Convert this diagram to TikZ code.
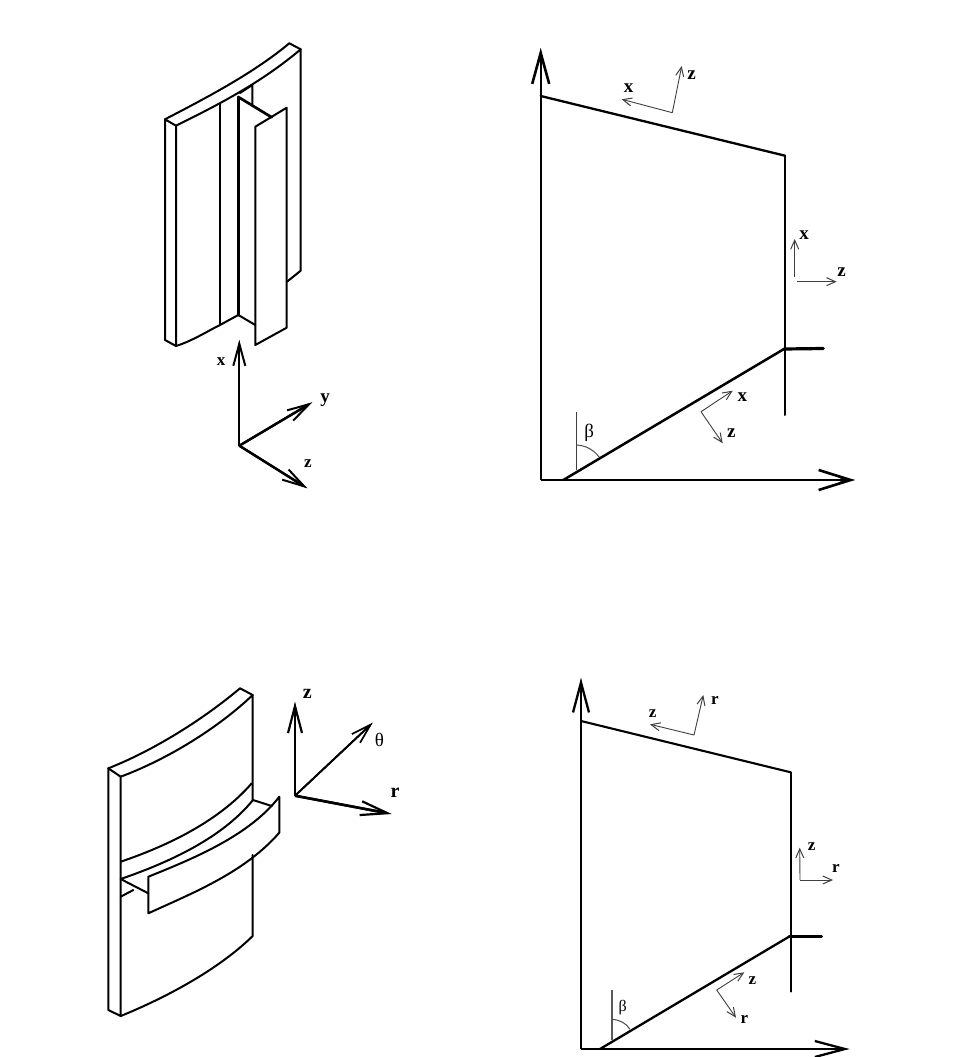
\documentclass[tikz,border=0pt]{standalone}
\usepackage{fontspec}
\setmainfont{Liberation Serif}
\usetikzlibrary{arrows.meta}
\tikzset{
  ln/.style={line width=2pt,black,line join=round,line cap=round},
  lnthick/.style={line width=2.7pt,black,line join=round,line cap=round},
  bigarrow/.style={line width=2.4pt,black,-{Straight Barb[length=31pt,width=17pt,line width=2.6pt]},
    postaction={draw,-{Stealth[length=17pt,width=6pt]}}},
  bigarrowh/.style={line width=2.4pt,black,-{Straight Barb[length=32pt,width=20pt,line width=2.6pt]},
    postaction={draw,-{Stealth[length=17pt,width=6pt]}}},
  midarrow/.style={line width=2.3pt,black,-{Straight Barb[length=22pt,width=12pt,line width=2pt]},
    postaction={draw,-{Stealth[length=12pt,width=5pt]}}},
  bigmid/.style={line width=2.5pt,black,-{Straight Barb[length=27pt,width=14pt,line width=2.2pt]},
    postaction={draw,-{Stealth[length=14pt,width=5pt]}}},
  slimarrow/.style={line width=1.8pt,black,-{Straight Barb[length=20pt,width=12pt,line width=1.7pt]},
    postaction={draw,-{Stealth[length=10pt,width=4pt]}}},
  lowarrow/.style={line width=2.1pt,black,-{Straight Barb[length=30pt,width=16pt,line width=2.3pt]},
    postaction={draw,-{Stealth[length=14pt,width=5pt]}}},
  thinarrow/.style={line width=.9pt,black!75,-{Straight Barb[length=9pt,width=8pt,line width=1pt]}},
  lab/.style={font=\bfseries\fontsize{19}{19}\selectfont,inner sep=0pt},
  labs/.style={font=\bfseries\fontsize{17}{17}\selectfont,inner sep=0pt},
  labb/.style={font=\bfseries\fontsize{20}{20}\selectfont,inner sep=0pt},
  betal/.style={font=\fontsize{19}{19}\selectfont,inner sep=0pt},
  betas/.style={font=\fontsize{16}{16}\selectfont,inner sep=0pt},
  thinl/.style={line width=1pt,black!70}
}
\begin{document}
\begin{tikzpicture}[x=1pt,y=-1pt]
\useasboundingbox[fill=white] (0,0) rectangle (970,1057);

%% Top-left: part
\draw[ln] (165,119.3) -- (176,125.7) -- (176,346) -- (165,340) -- cycle;
\draw[ln] (165,119.3) .. controls (210,96) and (255,72) .. (289.3,43.3) -- (300.7,49.3);
\draw[ln] (176,125.7) .. controls (220,104) and (262,82) .. (300.7,49.3) -- (300.7,270.7) -- (287,281.7);
\draw[ln] (176,346) .. controls (192,341) and (206,332) .. (220,325) -- (238.3,315) -- (255.3,325);
\draw[ln] (220,104) -- (220,325);
\draw[lnthick] (238.3,97) -- (238.3,315);
\draw[lnthick] (238.3,97) -- (271.7,117.3);
\draw[ln] (240,93) -- (252.3,85) -- (252.3,105);
\draw[ln] (255.3,126.7) -- (286.7,107.7) -- (286.7,327.7) -- (255.3,345) -- cycle;

%% Top-left: axes
\coordinate (o1) at (239.3,445.7);
\coordinate (x1) at (239.3,340);
\coordinate (y1) at (312.3,402.3);
\coordinate (z1) at (307.3,488.3);
\draw[midarrow] (o1) -- (x1);
\draw[midarrow] (o1) -- (y1);
\draw[midarrow] (o1) -- (z1);
\node[labs] (lx1) at (221,362) {x};
\node[lab] (ly1) at (325,400) {y};
\node[labs] (lz1) at (308,464) {z};

%% Top-right: section
\coordinate (o2) at (540.7,480);
\coordinate (v2) at (540.7,48);
\coordinate (h2) at (855,480);
\coordinate (tl2) at (540.7,96);
\coordinate (tr2) at (785,155.7);
\coordinate (br2) at (785,415);
\coordinate (s2a) at (563.3,480);
\coordinate (s2b) at (784,349);
\coordinate (st2) at (823.3,348.5);
\draw[bigarrow] (o2) -- (v2);
\draw[bigarrowh] (o2) -- (h2);
\draw[lnthick,line width=2.3pt] (tl2) -- (tr2);
\draw[ln] (tr2) -- (br2);
\draw[lnthick,line width=2.5pt] (s2a) -- (s2b);
\draw[lnthick,line width=3.2pt] (s2b) -- (st2);
\coordinate (b2a) at (576.7,411.7);
\coordinate (b2b) at (576.7,470);
\draw[line width=1.3pt,black!75] (b2a) -- (b2b);
\draw[thinl] (576.7,445) .. controls (586,445.5) and (594,450) .. (599.3,457.3);
\node[betal] (lb2) at (589.3,433) {β};

\coordinate (c2t) at (672.3,112.7);
\draw[thinarrow] (c2t) -- (621.7,99.3);
\draw[thinarrow] (c2t) -- (681.7,66);
\node[lab] (l2tx) at (628.7,88.5) {x};
\node[lab] (l2tz) at (691.7,75.5) {z};

\coordinate (c2rx) at (794.7,276.7);
\coordinate (c2rz) at (797.3,281.7);
\draw[thinarrow] (c2rx) -- (794.7,239);
\draw[thinarrow] (c2rz) -- (836.7,281.7);
\node[lab] (l2rx) at (804,235.5) {x};
\node[lab] (l2rz) at (841.7,272.5) {z};

\coordinate (c2b) at (701,411.7);
\draw[thinarrow] (c2b) -- (732.7,390.7);
\draw[thinarrow] (c2b) -- (722.7,443.3);
\node[lab] (l2bx) at (742.3,397.5) {x};
\node[lab] (l2bz) at (731.3,433.5) {z};

%% Bottom-left: part
\draw[ln] (108.3,768.3) -- (120.7,776.7) -- (120.7,1016) -- (108.3,1010) -- cycle;
\draw[ln] (108.3,768.3) .. controls (150,752) and (200,722) .. (240,688.3) -- (252.7,695);
\draw[ln] (120.7,776.7) .. controls (168,759) and (218,728) .. (252.7,695) -- (252.7,800);
\draw[ln] (120.7,861.7) .. controls (170,845) and (220,820) .. (251.7,783.3);
\draw[ln] (120.7,879) .. controls (170,862) and (222,838) .. (253,800) -- (271.7,806);
\draw[ln] (120.7,879) -- (148.3,893.3);
\draw[ln] (120.7,896.7) -- (133.3,890);
\draw[ln] (148.3,876.7) .. controls (195,858) and (250,835) .. (279.3,796.7) -- (279.3,832.7)
  .. controls (245,872) and (195,892) .. (148.3,913.3) -- cycle;
\draw[ln] (252.7,855) -- (252.7,936) .. controls (218,970) and (165,998) .. (120.7,1016);

%% Bottom-left: axes
\coordinate (o3) at (295,795.7);
\coordinate (z3) at (295,701.7);
\coordinate (t3) at (372.7,722.7);
\coordinate (r3) at (391.7,814);
\draw[bigmid] (o3) -- (z3);
\draw[slimarrow] (o3) -- (t3);
\draw[bigmid] (o3) -- (r3);
\node[labb] (lz3) at (307.3,693.5) {z};
\node[betal] (lt3) at (379.5,740) {θ};
\node[labb] (lr3) at (395,793) {r};

%% Bottom-right: section
\coordinate (o4) at (581,1049);
\coordinate (v4) at (581,678);
\coordinate (h4) at (849.3,1049);
\coordinate (tl4) at (581,721);
\coordinate (tr4) at (790.7,772.3);
\coordinate (br4) at (790.7,991.7);
\coordinate (s4a) at (600,1049);
\coordinate (s4b) at (789,936.7);
\coordinate (st4) at (821.7,936.7);
\draw[lowarrow] (o4) -- (v4);
\draw[lowarrow] (o4) -- (h4);
\draw[lnthick,line width=2.1pt] (tl4) -- (tr4);
\draw[ln] (tr4) -- (br4);
\draw[lnthick,line width=2.3pt] (s4a) -- (s4b);
\draw[lnthick,line width=2.5pt] (s4b) -- (st4);
\coordinate (b4a) at (612,990);
\coordinate (b4b) at (612,1040);
\draw[line width=1.1pt,black!65] (b4a) -- (b4b);
\draw[thinl] (612,1019.3) .. controls (620,1020) and (626,1023) .. (630,1029.3);
\node[betas] (lb4) at (622.7,1008) {β};

\coordinate (c4t) at (694,735);
\draw[thinarrow] (c4t) -- (650,724.3);
\draw[thinarrow] (c4t) -- (703.3,695);
\node[labs] (l4tz) at (652.7,713.5) {z};
\node[labs] (l4tr) at (715,700.5) {r};

\coordinate (c4r) at (800,880);
\draw[thinarrow] (c4r) -- (799.7,847.7);
\draw[thinarrow] (c4r) -- (833,880);
\node[labs] (l4rz) at (811.7,846.5) {z};
\node[labs] (l4rr) at (836,868) {r};

\coordinate (c4b) at (716.7,990);
\draw[thinarrow] (c4b) -- (744.3,972.3);
\draw[thinarrow] (c4b) -- (736,1017.7);
\node[labs] (l4bz) at (752.3,981) {z};
\node[labs] (l4br) at (744.3,1019) {r};
\end{tikzpicture}
\end{document}
